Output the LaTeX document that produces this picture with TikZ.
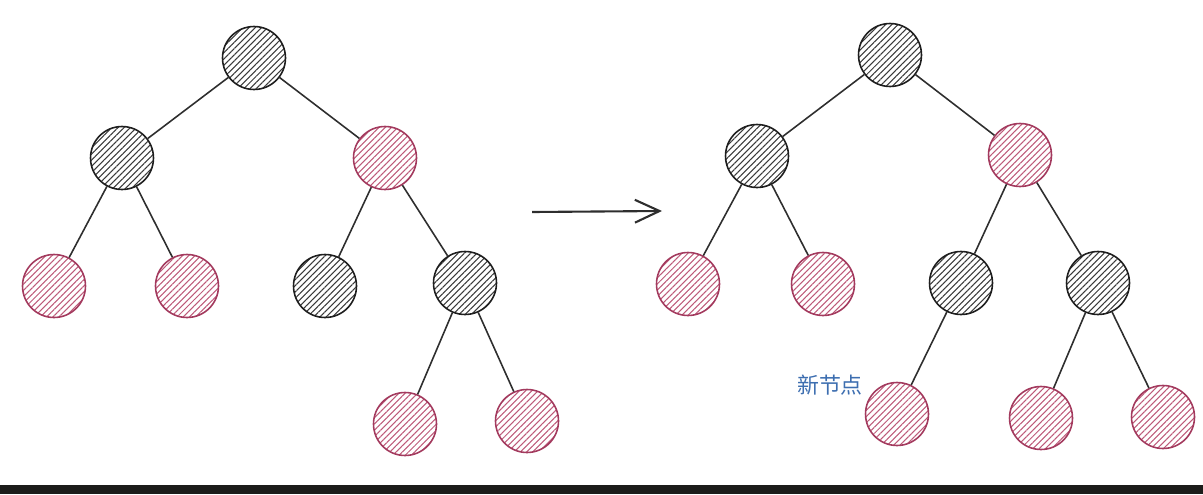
\documentclass[tikz,border=0pt]{standalone}
\usepackage{fontspec}
\newfontfamily\cjk{Noto Sans CJK SC}
\usepackage{tikz}
\usetikzlibrary{arrows.meta, patterns.meta}
\definecolor{my_black}{HTML}{1E1E1E}
\definecolor{my_blackhatch}{HTML}{3A3A3A}
\definecolor{my_red}{HTML}{A33A5E}
\definecolor{my_redhatch}{HTML}{BD5A79}
\definecolor{my_blue}{HTML}{3D6EB0}
\definecolor{my_bar}{HTML}{1C1C1A}
\definecolor{my_edge}{HTML}{2E2E2E}

\begin{document}
\begin{tikzpicture}[
    x=0.02cm, y=-0.02cm,
    blacknode/.style={circle, minimum size=1.26cm, inner sep=0pt, draw=my_black, line width=0.9pt,
        pattern={Lines[angle=45, distance=2.5pt, line width=0.6pt]}, pattern color=my_blackhatch},
    rednode/.style={circle, minimum size=1.26cm, inner sep=0pt, draw=my_red, line width=0.9pt,
        pattern={Lines[angle=45, distance=2.5pt, line width=0.6pt]}, pattern color=my_redhatch},
    edge/.style={draw=my_edge, line width=0.9pt},
    bigarrow/.style={draw=my_edge, line width=1.2pt, -{Straight Barb[length=14pt, width=13pt]}}
]

\useasboundingbox (0,0) rectangle (1203,494);

%% ================================================================
%% LINKER BAUM
%% ================================================================
\node[blacknode] (a1) at (254, 58) {};
\node[blacknode] (a2) at (122,158) {};
\node[rednode]   (a3) at (385,158) {};
\node[rednode]   (a4) at ( 54,286) {};
\node[rednode]   (a5) at (187,286) {};
\node[blacknode] (a6) at (325,286) {};
\node[blacknode] (a7) at (465,283) {};
\node[rednode]   (a8) at (405,424) {};
\node[rednode]   (a9) at (527,421) {};

\draw[edge] (a1) -- (a2);
\draw[edge] (a1) -- (a3);
\draw[edge] (a2) -- (a4);
\draw[edge] (a2) -- (a5);
\draw[edge] (a3) -- (a6);
\draw[edge] (a3) -- (a7);
\draw[edge] (a7) -- (a8);
\draw[edge] (a7) -- (a9);

%% --- Pfeil ---
\coordinate (p1) at (532,212);
\coordinate (p2) at (662,211);
\draw[bigarrow] (p1) -- (p2);

%% ================================================================
%% RECHTER BAUM
%% ================================================================
\node[blacknode] (b1) at ( 890, 55) {};
\node[blacknode] (b2) at ( 757,156) {};
\node[rednode]   (b3) at (1020,155) {};
\node[rednode]   (b4) at ( 688,284) {};
\node[rednode]   (b5) at ( 823,284) {};
\node[blacknode] (b6) at ( 961,283) {};
\node[blacknode] (b7) at (1098,283) {};
\node[rednode]   (b8) at ( 897,414) {};
\node[rednode]   (b9) at (1041,418) {};
\node[rednode]   (b10) at (1163,417) {};

\draw[edge] (b1) -- (b2);
\draw[edge] (b1) -- (b3);
\draw[edge] (b2) -- (b4);
\draw[edge] (b2) -- (b5);
\draw[edge] (b3) -- (b6);
\draw[edge] (b3) -- (b7);
\draw[edge] (b6) -- (b8);
\draw[edge] (b7) -- (b9);
\draw[edge] (b7) -- (b10);

%% --- Beschriftung ---
\node[font=\cjk\fontsize{12.5}{15}\selectfont, text=my_blue] (neu) at (830,385) {新节点};

%% --- Leiste unten ---
\fill[my_bar] (0,485) rectangle (1203,494);

\end{tikzpicture}
\end{document}
